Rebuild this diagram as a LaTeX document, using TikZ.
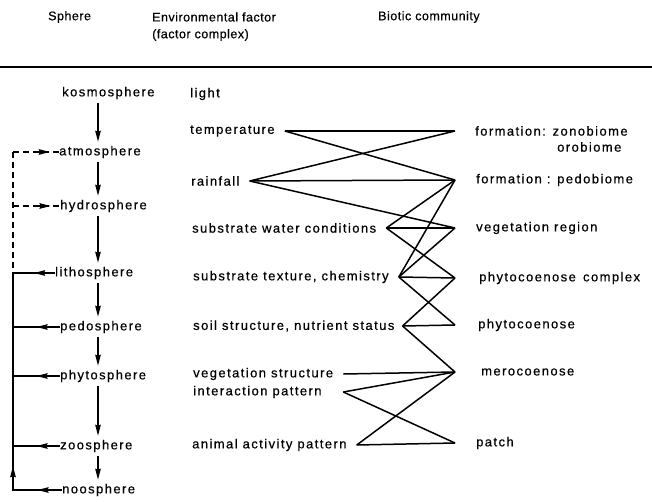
\documentclass[tikz,border=0pt]{standalone}
\usepackage{fontspec}
\setmainfont{Liberation Sans}
\newfontfamily\bodyfont[LetterSpace=11,FakeBold=0.5]{Liberation Sans}
\newfontfamily\headfont[LetterSpace=4,FakeBold=0.5]{Liberation Sans}
\usetikzlibrary{arrows.meta,calc}
\begin{document}
\begin{tikzpicture}[x=1pt,y=-1pt,
  lbl/.style={anchor=west,inner xsep=0pt,inner ysep=4pt,font=\bodyfont\fontsize{13}{15}\selectfont},
  hd/.style={anchor=west,inner sep=0pt,font=\headfont\fontsize{12.5}{15}\selectfont},
  link/.style={line width=1.5pt},
  tip/.style={-{Stealth[length=11pt,width=5.5pt,inset=1pt]}},
  dsh/.style={dash pattern=on 6pt off 4pt},
]
\fill[white] (0,0) rectangle (652,502);
\useasboundingbox (0,0) rectangle (652,502);

% headers
\node[hd] (hsph) at (48,17) {Sphere};
\node[hd] (henv) at (152,17) {Environmental factor};
\node[hd] (henv2) at (152,35) {(factor complex)};
\node[hd] (hbio) at (378,17) {Biotic community};
\draw[line width=1.8pt] (0,67) -- (652,67);

% spheres
\node[lbl] (kos) at (62,93) {kosmosphere};
\node[lbl] (atm) at (59,152) {atmosphere};
\node[lbl] (hyd) at (60,206) {hydrosphere};
\node[lbl] (lit) at (55,273) {lithosphere};
\node[lbl] (ped) at (60,327) {pedosphere};
\node[lbl] (phy) at (60,376) {phytosphere};
\node[lbl] (zoo) at (60,446) {zoosphere};
\node[lbl] (noo) at (62,490) {noosphere};
\coordinate (ax) at (98,0);
\coordinate (lx) at (13,0);

\draw[link,tip] (kos.south -| ax) -- (atm.north -| ax);
\draw[link,tip] (atm.south -| ax) -- (hyd.north -| ax);
\draw[link,tip] (hyd.south -| ax) -- (lit.north -| ax);
\draw[link,tip] (lit.south -| ax) -- (ped.north -| ax);
\draw[link,tip] (ped.south -| ax) -- (phy.north -| ax);
\draw[link,tip] (phy.south -| ax) -- (zoo.north -| ax);
\draw[link,tip] (zoo.south -| ax) -- (noo.north -| ax);

% dashed feedback
\draw[link,dsh] (lx |- atm.west) -- (lx |- lit.west);
\draw[link,dsh] (lx |- atm.west) -- (atm.west);
\draw[link,tip] ($(lx |- atm.west)!0.55!(atm.west)$) -- ($(lx |- atm.west)!0.8!(atm.west)$);
\draw[link,dsh] (lx |- hyd.west) -- (hyd.west);
\draw[link,tip] ($(lx |- hyd.west)!0.55!(hyd.west)$) -- ($(lx |- hyd.west)!0.8!(hyd.west)$);

% solid feedback
\draw[link,line cap=rect] (lx |- noo.west) -- (lx |- lit.west);
\draw[link,tip] (lx |- noo.west) -- ($(lx |- noo.west)!0.11!(lx |- lit.west)$);
\foreach \s in {lit,ped,phy,zoo,noo}{
  \draw[link] (\s.west) -- (lx |- \s.west);
  \draw[link,tip] (\s.west) -- ($(\s.west)!0.5!(lx |- \s.west)$);
}

% factors
\node[lbl] (light) at (190,94) {light};
\node[lbl] (temp) at (190,131) {temperature};
\node[lbl] (rain) at (191,181) {rainfall};
\node[lbl] (water) at (192,228) {substrate water conditions};
\node[lbl] (tex) at (193,277) {substrate texture, chemistry};
\node[lbl] (soil) at (193,326) {soil structure, nutrient status};
\node[lbl] (vegs) at (193,374) {vegetation structure};
\node[lbl] (inter) at (193,392) {interaction pattern};
\node[lbl] (anim) at (192,445) {animal activity pattern};

% communities
\node[lbl] (zon) at (475,131) {formation: zonobiome};
\node[lbl] (oro) at (557,147) {orobiome};
\node[lbl] (pedb) at (476,180) {formation : pedobiome};
\node[lbl] (vreg) at (476,228) {vegetation region};
\node[lbl] (pcx) at (479,278) {phytocoenose\, complex};
\node[lbl] (pc) at (478,325) {phytocoenose};
\node[lbl] (mero) at (481,372) {merocoenose};
\node[lbl] (patch) at (476,443) {patch};

% ports
\coordinate (rx) at (455,0);
\coordinate (tempP) at ([xshift=10pt]temp.east);
\coordinate (rainP) at ([xshift=10pt]rain.east);
\coordinate (waterP) at ([xshift=10pt]water.east);
\coordinate (texP) at ([xshift=10pt]tex.east);
\coordinate (soilP) at ([xshift=8pt]soil.east);
\coordinate (vegsP) at ([xshift=10pt]vegs.east);
\coordinate (interP) at (vegsP |- inter.east);
\coordinate (animP) at ([xshift=10pt]anim.east);
\coordinate (zonP) at (rx |- zon.west);
\coordinate (pedbP) at (rx |- pedb.west);
\coordinate (vregP) at (rx |- vreg.west);
\coordinate (pcxP) at (rx |- pcx.west);
\coordinate (pcP) at (rx |- pc.west);
\coordinate (meroP) at (rx |- mero.west);
\coordinate (patchP) at (rx |- patch.west);

\draw[link] (tempP) -- (zonP);
\draw[link] (tempP) -- (pedbP);
\draw[link] (rainP) -- (zonP);
\draw[link] (rainP) -- (pedbP);
\draw[link] (rainP) -- (vregP);
\draw[link] (waterP) -- (pedbP);
\draw[link] (waterP) -- (vregP);
\draw[link] (waterP) -- (pcxP);
\draw[link] (texP) -- (pedbP);
\draw[link] (texP) -- (vregP);
\draw[link] (texP) -- (pcxP);
\draw[link] (texP) -- (pcP);
\draw[link] (soilP) -- (pcxP);
\draw[link] (soilP) -- (pcP);
\draw[link] (soilP) -- (meroP);
\draw[link] (vegsP) -- (meroP);
\draw[link] (interP) -- (meroP);
\draw[link] (interP) -- (patchP);
\draw[link] (animP) -- (meroP);
\draw[link] (animP) -- (patchP);
\end{tikzpicture}
\end{document}
